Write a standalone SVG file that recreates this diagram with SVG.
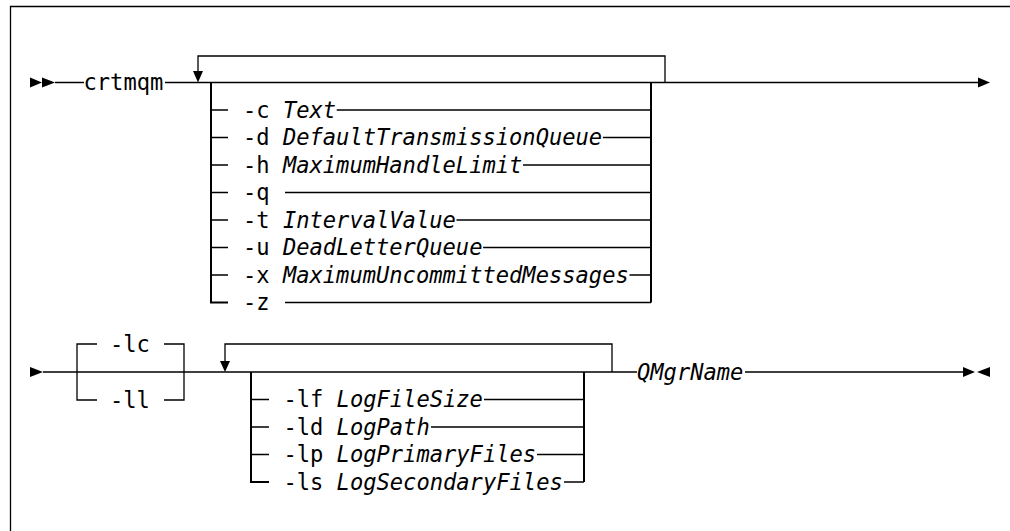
<svg xmlns="http://www.w3.org/2000/svg" width="1010" height="531" viewBox="0 0 1010 531">
<style>
.t{font-family:"DejaVu Sans Mono","Liberation Mono",monospace;font-size:22.1px;fill:#000}
.i{font-style:italic}
.ln{fill:none;stroke:#000;stroke-width:1.3}
.st{fill:none;stroke:#000;stroke-width:2}
.ar{fill:#000;stroke:none}
</style>
<rect width="1010" height="531" fill="#fff"/>
<path class="ln" d="M10.5,531 V6.5 H1010" stroke-width="1.6"/>
<g id="connectors">
  <!-- row 1 -->
  <path class="ar" d="M30,77.5 L42,82.5 L30,87.5 Z M42,77.5 L55,82.5 L42,87.5 Z"/>
  <path class="ln" d="M55,82.5 H84 M165,82.5 H979"/>
  <path class="ar" d="M978,77.5 L990,82.5 L978,87.5 Z"/>
  <path class="ln" d="M198,71 V56 H665 V82.5"/>
  <path class="ar" d="M193,71 L203,71 L198,82.5 Z"/>
  <path class="st" d="M211,82.5 V302.5 H228"/>
  <path class="st" d="M651,82.5 V302.5"/>
  <path class="ln" d="M211,110 H228 M211,137.5 H228 M211,165 H228 M211,192.5 H228 M211,220 H228 M211,247.5 H228 M211,275 H228"/>
  <path class="ln" d="M336.7,110 H651 M602.9,137.5 H651 M523,165 H651 M285,192.5 H651 M456.5,220 H651 M483.1,247.5 H651 M629.5,275 H651 M285,302.5 H651"/>
  <!-- row 2 -->
  <path class="ar" d="M30,367 L43,372 L30,377 Z"/>
  <path class="ln" d="M43,372 H612 M612,372 H637 M745,372 H963"/>
  <path class="ar" d="M963,367 L975,372 L963,377 Z M977,372 L990,367 L990,377 Z"/>
  <path class="ln" d="M97,344 H77 V400 H97 M164,344 H184 V400 H164"/>
  <path class="ln" d="M225,361 V344 H612 V372"/>
  <path class="ar" d="M220,361 L230,361 L225,372 Z"/>
  <path class="st" d="M251,372 V482 H269"/>
  <path class="st" d="M584,372 V482"/>
  <path class="ln" d="M251,399.5 H269 M251,427 H269 M251,454.5 H269"/>
  <path class="ln" d="M484,399.5 H584 M431,427 H584 M537,454.5 H584 M564,482 H584"/>
</g>
<g id="crtmqm"><text class="t" x="83.5" y="90">crtmqm</text></g>
<g id="opt-c"><text class="t" x="243" y="117.5">-c <tspan class="i">Text</tspan></text></g>
<g id="opt-d"><text class="t" x="243" y="145">-d <tspan class="i">DefaultTransmissionQueue</tspan></text></g>
<g id="opt-h"><text class="t" x="243" y="172.5">-h <tspan class="i">MaximumHandleLimit</tspan></text></g>
<g id="opt-q"><text class="t" x="243" y="200">-q</text></g>
<g id="opt-t"><text class="t" x="243" y="227.5">-t <tspan class="i">IntervalValue</tspan></text></g>
<g id="opt-u"><text class="t" x="243" y="255">-u <tspan class="i">DeadLetterQueue</tspan></text></g>
<g id="opt-x"><text class="t" x="243" y="282.5">-x <tspan class="i">MaximumUncommittedMessages</tspan></text></g>
<g id="opt-z"><text class="t" x="243" y="310">-z</text></g>
<g id="opt-lc"><text class="t" x="110" y="351.5">-lc</text></g>
<g id="opt-ll"><text class="t" x="110" y="407.5">-ll</text></g>
<g id="opt-lf"><text class="t" x="283.4" y="407">-lf <tspan class="i">LogFileSize</tspan></text></g>
<g id="opt-ld"><text class="t" x="283.4" y="434.5">-ld <tspan class="i">LogPath</tspan></text></g>
<g id="opt-lp"><text class="t" x="283.4" y="462">-lp <tspan class="i">LogPrimaryFiles</tspan></text></g>
<g id="opt-ls"><text class="t" x="283.4" y="489.5">-ls <tspan class="i">LogSecondaryFiles</tspan></text></g>
<g id="qmgrname"><text class="t i" x="637" y="379.5">QMgrName</text></g>
</svg>
